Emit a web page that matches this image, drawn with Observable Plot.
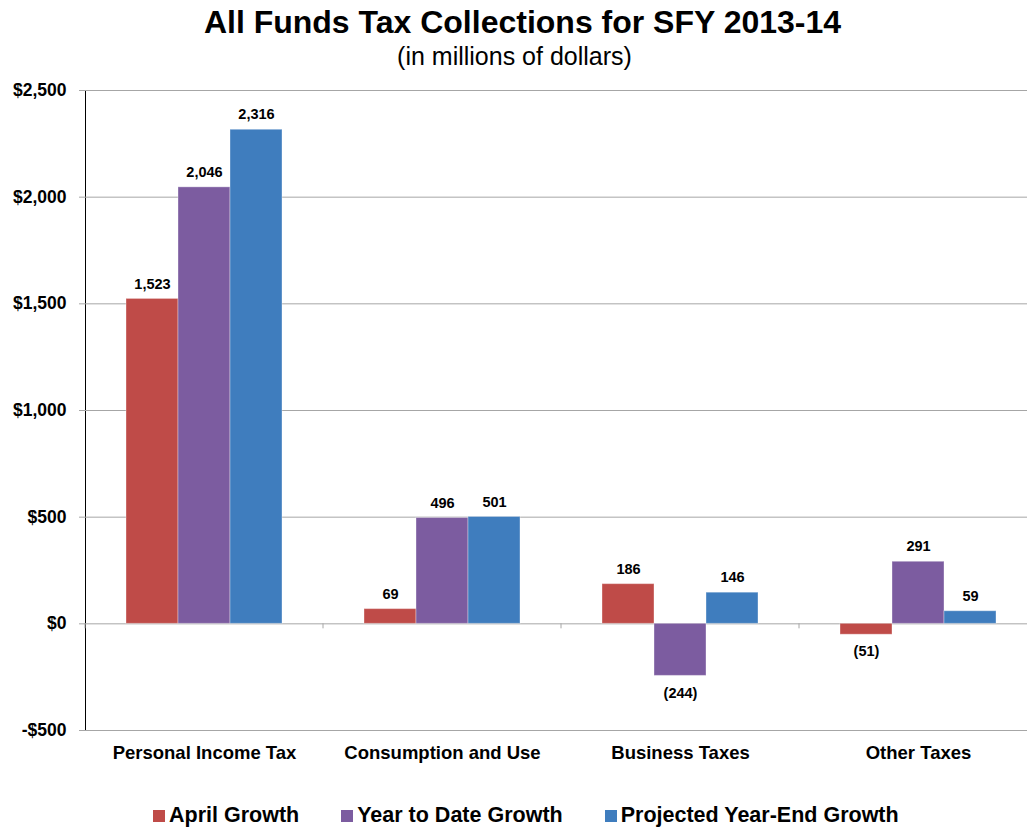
<!DOCTYPE html>
<html>
<head>
<meta charset="utf-8">
<script src="https://cdn.jsdelivr.net/npm/d3@7"></script>
<script src="https://cdn.jsdelivr.net/npm/@observablehq/plot@0.6"></script>
<style>
  html, body { margin: 0; padding: 0; background: #fff; overflow: hidden; width: 1027px; height: 828px; }
  #wrap { position: relative; width: 1027px; height: 828px; font-family: "Liberation Sans", Arial, sans-serif; color: #000; overflow: hidden; }
  #title { position: absolute; left: 9px; top: 4px; width: 1027px; text-align: center; font-weight: bold; font-size: 32px; line-height: 36px; }
  #subtitle { position: absolute; left: 1px; top: 41px; width: 1027px; text-align: center; font-weight: normal; font-size: 25px; line-height: 30px; }
  #chart { position: absolute; left: 0; top: 0; width: 1037px; height: 828px; }
  #chart svg { max-width: none !important; width: 1037px !important; height: 828px !important; }
  #legend { position: absolute; left: 153px; top: 803px; display: flex; align-items: center; font-weight: bold; font-size: 21.5px; line-height: 24px; white-space: nowrap; }
  #legend .item { display: flex; align-items: center; margin-right: 42px; }
  #legend .sw { width: 12px; height: 12px; margin-right: 4px; margin-top: 2px; }
  g[aria-label^="y-axis"] line, g[aria-label^="y-axis"] path { stroke: #A6A6A6; stroke-opacity: 1; }
  g[aria-label^="y-axis"] text { font-size: 17.5px; font-weight: bold; }
  g[aria-label^="fx-axis"] text { font-size: 18.5px; font-weight: bold; }
</style>
</head>
<body>
<div id="wrap">
  <div id="title">All Funds Tax Collections for SFY 2013-14</div>
  <div id="subtitle">(in millions of dollars)</div>
  <div id="chart"></div>
  <div id="legend"></div>
</div>
<script>
const categories = ["Personal Income Tax", "Consumption and Use", "Business Taxes", "Other Taxes"];
const series = ["April Growth", "Year to Date Growth", "Projected Year-End Growth"];
const aprilGrowth = [1523, 69, 186, -51];
const yearToDateGrowth = [2046, 496, -244, 291];
const projectedYearEndGrowth = [2316, 501, 146, 59];
const yTicks = [-500, 0, 500, 1000, 1500, 2000, 2500];

const seriesColors = ["#BF4B48", "#7C5CA0", "#3F7DBE"];
const gridColor = "#A6A6A6";

const seriesValues = [aprilGrowth, yearToDateGrowth, projectedYearEndGrowth];
const rows = categories.flatMap((c, i) => series.map((s, j) => ({category: c, series: s, value: seriesValues[j][i]})));

const numFmt = d3.format(",");
const dollarFmt = d => (d < 0 ? "-$" : "$") + numFmt(Math.abs(d));
const labelFmt = d => d < 0 ? "(" + numFmt(Math.abs(d)) + ")" : numFmt(d);

const separatorTicks = (index, scales, values, dimensions) => {
  const g = d3.create("svg:g").attr("aria-label", "category-separators");
  let x0 = dimensions.marginLeft;
  if (scales.x && typeof scales.x.range === "function") x0 = Math.min(...scales.x.range());
  const y0 = scales.y(0);
  g.append("line")
    .attr("x1", x0).attr("x2", x0)
    .attr("y1", y0).attr("y2", y0 + 5)
    .attr("stroke", gridColor);
  return g.node();
};

const chart = Plot.plot({
  width: 1037,
  height: 828,
  marginLeft: 84,
  marginRight: 0,
  marginTop: 90,
  marginBottom: 98,
  style: {fontFamily: '"Liberation Sans", Arial, sans-serif', color: "#000", background: "transparent", overflow: "visible", maxWidth: "none"},
  facet: {data: rows, x: "category", marginTop: 0, marginBottom: 0, marginLeft: 0, marginRight: 0},
  fx: {domain: categories, padding: 0, axis: "bottom", tickSize: 0, tickPadding: 15, label: null},
  x: {domain: series, paddingInner: 0, paddingOuter: 0.76, axis: null},
  y: {domain: [-500, 2500], ticks: yTicks, tickFormat: dollarFmt, tickSize: 6, tickPadding: 13, label: null, line: true},
  color: {domain: series, range: seriesColors},
  marks: [
    Plot.ruleY(yTicks, {stroke: gridColor, strokeWidth: 1}),
    Plot.barY(rows, {x: "series", y: "value", fill: "series", stroke: "#ffffff", strokeOpacity: 0.35, strokeWidth: 1}),
    Plot.text(rows, {filter: d => d.value >= 0, x: "series", y: "value", text: d => labelFmt(d.value), dy: -15, fontSize: 14.5, fontWeight: "bold", fill: "#000"}),
    Plot.text(rows, {filter: d => d.value < 0, x: "series", y: "value", text: d => labelFmt(d.value), dy: 17, fontSize: 14.5, fontWeight: "bold", fill: "#000"}),
    separatorTicks
  ]
});
document.getElementById("chart").appendChild(chart);

const legend = d3.select("#legend");
series.forEach((s, i) => {
  const item = legend.append("div").attr("class", "item");
  item.append("div").attr("class", "sw").style("background", seriesColors[i]);
  item.append("span").text(s);
});
</script>
</body>
</html>
